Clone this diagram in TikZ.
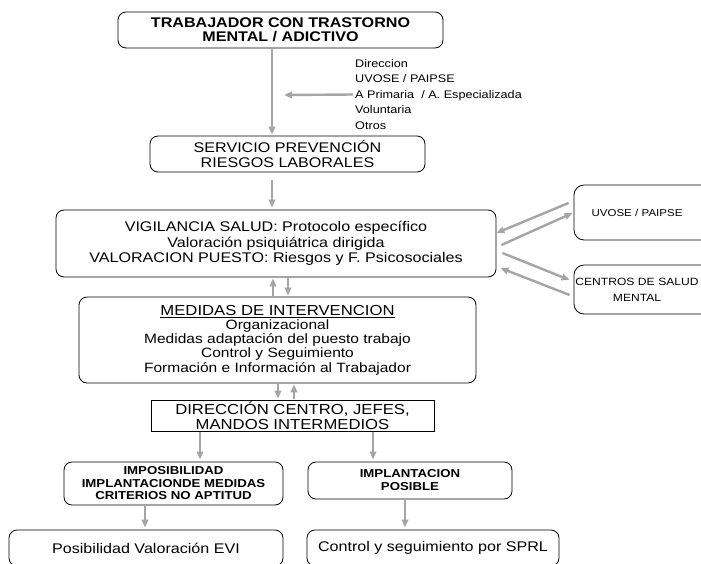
\documentclass[tikz,border=0pt]{standalone}
\usepackage{fontspec}
\setmainfont{Liberation Sans}[FakeStretch=1.15]
\usetikzlibrary{arrows.meta,calc}
\definecolor{arr}{RGB}{165,165,165}
\tikzset{
  box/.style={draw=black, line width=0.8pt, rounded corners=8pt, inner sep=0pt, align=center},
  sqbox/.style={draw=black, line width=0.8pt, inner sep=0pt, align=center},
  sidebox/.style={draw=black, line width=0.8pt, rounded corners=10pt, inner sep=0pt, text width=150pt, align=left},
  flow/.style={draw=arr, line width=2.4pt, -{Triangle[length=8pt,width=6.5pt]}},
}
\begin{document}
\begin{tikzpicture}[x=1pt,y=-1pt]
\useasboundingbox (0,0) rectangle (701,563);
% boxes
\node[box, minimum width=325pt, minimum height=36pt, font=\bfseries\fontsize{14}{14}\selectfont] (top) at (280.5,30) {TRABAJADOR CON TRASTORNO\\MENTAL / ADICTIVO};
\node[box, minimum width=275pt, minimum height=36pt, font=\fontsize{14}{15}\selectfont] (serv) at (287.5,154) {SERVICIO PREVENCIÓN\\RIESGOS LABORALES};
\node[box, minimum width=440pt, minimum height=67pt, font=\fontsize{14}{15.5}\selectfont] (vig) at (276,243.5) {VIGILANCIA SALUD: Protocolo específico\\Valoración psiquiátrica dirigida\\VALORACION PUESTO: Riesgos y F. Psicosociales};
\node[box, minimum width=397pt, minimum height=86pt, font=\fontsize{13.5}{14.2}\selectfont] (med) at (277.5,340) {{\fontsize{14.5}{14.5}\selectfont\underline{MEDIDAS DE INTERVENCION}}\\Organizacional\\Medidas adaptación del puesto trabajo\\Control y Seguimiento\\Formación e Información al Trabajador};
\node[sqbox, minimum width=283pt, minimum height=31pt, font=\fontsize{14.5}{15}\selectfont] (dir) at (292.5,415.5) {DIRECCIÓN CENTRO, JEFES,\\MANDOS INTERMEDIOS};
\node[box, minimum width=219pt, minimum height=43pt, font=\bfseries\fontsize{11.5}{12.5}\selectfont] (imp) at (173.5,483.5) {IMPOSIBILIDAD\\IMPLANTACIONDE MEDIDAS\\CRITERIOS NO APTITUD};
\node[box, minimum width=204pt, minimum height=37pt, font=\bfseries\fontsize{11.5}{13}\selectfont] (impl) at (410,480.5) {IMPLANTACION\\POSIBLE};
\node[box, minimum width=274pt, minimum height=36pt, font=\fontsize{14}{15}\selectfont] (evi) at (146,548) {Posibilidad Valoración EVI};
\node[box, minimum width=252pt, minimum height=36pt, font=\fontsize{14}{15}\selectfont] (ctrl) at (433,548) {Control y seguimiento por SPRL};
\node[sidebox, minimum height=55pt, font=\fontsize{10}{12}\selectfont] (uvose) at (649,212.5) {\makebox[126pt]{UVOSE / PAIPSE}};
\node[sidebox, minimum height=49pt, font=\fontsize{10.5}{16}\selectfont] (centros) at (649,289.5) {\makebox[126pt]{CENTROS DE SALUD}\\\makebox[126pt]{MENTAL}};
\node[inner xsep=2pt, inner ysep=0pt, anchor=west, align=left, font=\fontsize{11}{15.5}\selectfont] (src) at (353,94.5) {Direccion\\UVOSE / PAIPSE\\A Primaria~~/ A. Especializada\\Voluntaria\\Otros};
\coordinate (hit) at (284,95);
% connectors
\draw[flow] ($(top.south)+(-8.5,0)$) -- ($(serv.north)+(-15.5,-1)$);
\draw[flow] (src.west) -- (hit);
\draw[flow] ($(serv.south)+(-15.5,8)$) -- ($(vig.north)+(-4,-2)$);
\draw[flow] ($(med.north)+(-4.5,-1)$) -- ($(vig.south)+(-3,1)$);
\draw[flow] ($(vig.south)+(12,1)$) -- ($(med.north)+(10.5,-1)$);
\draw[flow] ($(med.south)+(0.5,1)$) -- ($(dir.north)+(-14.5,-1)$);
\draw[flow] ($(dir.north)+(1.5,-1)$) -- ($(med.south)+(16.5,1)$);
\draw[flow] ($(dir.south)+(-92.5,1)$) -- ($(imp.north)+(26.5,-2)$);
\draw[flow] ($(dir.south)+(80.5,1)$) -- ($(impl.north)+(-37,-2)$);
\draw[flow] ($(imp.south)+(-28.5,1)$) -- ($(evi.north)+(-1,-2)$);
\draw[flow] ($(impl.south)+(-5,1)$) -- ($(ctrl.north)+(-28,-2)$);
% diagonal connectors
\draw[flow] ($(uvose.west)+(-5,-9.5)$) -- ($(vig.east)+(0,-10.5)$);
\draw[flow] ($(vig.east)+(5,1.5)$) -- ($(uvose.west)+(-1,0.5)$);
\draw[flow] ($(vig.east)+(6,9.5)$) -- ($(centros.west)+(-4,-9.5)$);
\draw[flow] ($(centros.west)+(-4,5.5)$) -- ($(vig.east)+(4,24.5)$);
\end{tikzpicture}
\end{document}
